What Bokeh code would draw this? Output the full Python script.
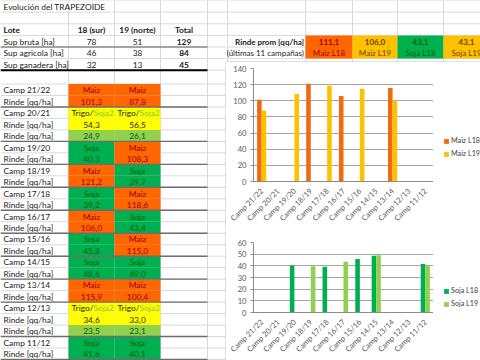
import math
import numpy as np
from bokeh.plotting import figure
from bokeh.models import (ColumnDataSource, Range1d, FactorRange, Legend, LegendItem,
                          SingleIntervalTicker)
from bokeh.layouts import row, column
from bokeh.embed import file_html
from bokeh.resources import INLINE
from bokeh.core.properties import value
from bokeh.transform import dodge

FONT = "Lato"

# ---------------- data ----------------
title_text = "Evolución del TRAPEZOIDE"
lote_header = ["Lote", "18 (sur)", "19 (norte)", "Total"]
sup_labels = ["Sup bruta [ha]", "Sup agricola [ha]", "Sup ganadera [ha]"]
sup_l18 = [78, 46, 32]
sup_l19 = [51, 38, 13]
sup_total = [129, 84, 45]

campaigns = ["Camp 21/22", "Camp 20/21", "Camp 19/20", "Camp 18/19", "Camp 17/18",
             "Camp 16/17", "Camp 15/16", "Camp 14/15", "Camp 13/14", "Camp 12/13", "Camp 11/12"]
crop_l18 = ["Maiz", "Trigo/Soja2", "Soja", "Maiz", "Soja", "Maiz", "Soja", "Soja", "Maiz", "Trigo/Soja2", "Soja"]
crop_l19 = ["Maiz", "Trigo/Soja2", "Maiz", "Soja", "Maiz", "Soja", "Maiz", "Soja", "Maiz", "Trigo/Soja2", "Soja"]
rinde_l18 = [101.3, 54.3, 40.3, 121.2, 39.2, 106.0, 45.8, 48.6, 115.9, 34.6, 41.6]
rinde_l19 = [87.8, 56.5, 108.3, 39.7, 118.6, 43.4, 115.0, 49.0, 100.4, 33.0, 40.1]
soja2_l18 = [None, 24.9, None, None, None, None, None, None, None, 23.5, None]
soja2_l19 = [None, 26.1, None, None, None, None, None, None, None, 23.1, None]

prom_title = ["Rinde prom [qq/ha]", "(últimas 11 campañas)"]
prom_series = ["Maiz L18", "Maiz L19", "Soja L18", "Soja L19"]
prom_values = [111.1, 106.0, 43.1, 43.1]

# ---------------- styling / geometry ----------------
PAGE_W, PAGE_H = 480, 360
LEFT_W = 226
RIGHT_W = PAGE_W - LEFT_W
LEG_W = 47
CH_W = RIGHT_W - LEG_W
HDR_H, C1_H, GAP_H = 62, 167, 2
C2_H = PAGE_H - HDR_H - C1_H - GAP_H

GRID = "#D9D9D9"
BOX = "#BFBFBF"
C_MAIZ, T_MAIZ = "#FF6600", "#9C0006"
C_SOJA, T_SOJA = "#00B050", "#006100"
C_TRIGO, T_TRIGO, T_SOJA2 = "#FFFF00", "#262626", "#8DC63F"
C_SOJA2 = "#92D050"
C_AMBER, T_AMBER = "#FFC000", "#6B3F00"
TXT = "#1A1A1A"
FS = "8.4px"

crop_fill = {"Maiz": C_MAIZ, "Soja": C_SOJA, "Trigo/Soja2": C_TRIGO}
crop_txt = {"Maiz": T_MAIZ, "Soja": T_SOJA, "Trigo/Soja2": T_TRIGO}


def fmt(v):
    return f"{v:.1f}".replace(".", ",")


def base_fig(w, h, xr, yr):
    p = figure(width=w, height=h, x_range=xr, y_range=yr, output_backend="svg",
               toolbar_location=None, min_border=0,
               x_axis_location=None, y_axis_location=None)
    p.grid.visible = False
    p.outline_line_color = None
    p.background_fill_color = "white"
    p.border_fill_color = "white"
    return p


def txt(p, x, y, t, align="left", color=TXT, bold=False, size=FS):
    p.text(x=x, y=y, text=t, text_font=value(FONT), text_font_size=size,
           text_align=align, text_baseline="middle", text_color=color,
           text_font_style="bold" if bold else "normal")


# ---------------- left sheet ----------------
left = base_fig(LEFT_W, PAGE_H, Range1d(0, LEFT_W), Range1d(PAGE_H, 0))

col_edges = [0, 68, 114, 160, 207]
col_center = [(col_edges[i] + col_edges[i + 1]) / 2 for i in range(4)]
top_rows = [0.1 + 11.6 * i for i in range(7)]
CAMP_Y0, CAMP_H = 83.5, 11.48

rows = []
for i, c in enumerate(campaigns):
    rows.append((c, "crop", i))
    rows.append(("Rinde [qq/ha]", "rinde", i))
    if soja2_l18[i] is not None:
        rows.append(("Rinde [qq/ha]", "soja2", i))
row_top = [CAMP_Y0 + k * CAMP_H for k in range(len(rows))]

hy = top_rows + [CAMP_Y0 + k * CAMP_H for k in range(len(rows) + 1)]
left.segment(x0=[0] * len(hy), x1=[LEFT_W] * len(hy), y0=hy, y1=hy, line_color=GRID, line_width=1)
vx = col_edges[1:]
left.segment(x0=vx, x1=vx, y0=[0] * len(vx), y1=[PAGE_H] * len(vx), line_color=GRID, line_width=1)

# colored cells
ql, qr, qt, qb, qc = [], [], [], [], []
for k, (lab, kind, i) in enumerate(rows):
    for j, crops in enumerate([crop_l18, crop_l19]):
        ql.append(col_edges[1 + j]); qr.append(col_edges[2 + j])
        qt.append(row_top[k]); qb.append(row_top[k] + CAMP_H)
        qc.append(C_SOJA2 if kind == "soja2" else crop_fill[crops[i]])
left.quad(left=ql, right=qr, top=qt, bottom=qb, fill_color=qc, line_color=None)

# group separators
sep_y = [row_top[k] + CAMP_H for k in range(len(rows))
         if k == len(rows) - 1 or rows[k + 1][1] == "crop"]
left.segment(x0=[0] * len(sep_y), x1=[207] * len(sep_y), y0=sep_y, y1=sep_y,
             line_color="#6E6E6E", line_width=1.4)

# top table lines
left.segment(x0=[0], x1=[207], y0=[top_rows[4]], y1=[top_rows[4]], line_color="#5A5A5A", line_width=1.2)
left.segment(x0=[0], x1=[207], y0=[top_rows[6]], y1=[top_rows[6]], line_color="#000000", line_width=2)

# chart box left border
left.segment(x0=[225.5, 225.5], x1=[225.5, 225.5], y0=[61.7, 231.0], y1=[229.3, PAGE_H],
             line_color=BOX, line_width=1)

# top table texts
txt(left, [3], [6.6], [title_text])
ty = (top_rows[2] + top_rows[3]) / 2 + 0.5
txt(left, [3], [ty], [lote_header[0]], bold=True)
txt(left, col_center[1:], [ty] * 3, lote_header[1:], align="center", bold=True)
sy = [(top_rows[3 + i] + top_rows[4 + i]) / 2 + 0.5 for i in range(3)]
txt(left, [3] * 3, sy, sup_labels)
txt(left, [col_center[1]] * 3, sy, [str(v) for v in sup_l18], align="center")
txt(left, [col_center[2]] * 3, sy, [str(v) for v in sup_l19], align="center")
txt(left, [col_center[3]] * 3, sy, [str(v) for v in sup_total], align="center", bold=True)

# campaign rows texts
for k, (lab, kind, i) in enumerate(rows):
    yc = row_top[k] + CAMP_H / 2 + 0.5
    txt(left, [3], [yc], [lab])
    for j, (crops, rin, s2) in enumerate([(crop_l18, rinde_l18, soja2_l18),
                                         (crop_l19, rinde_l19, soja2_l19)]):
        xc = col_center[1 + j]
        crop = crops[i]
        if kind == "crop":
            if crop == "Trigo/Soja2":
                a, b = crop.split("/")
                txt(left, [xc + 2], [yc], [a + "/"], align="right", color=T_TRIGO)
                txt(left, [xc + 2], [yc], [b], align="left", color=T_SOJA2)
            else:
                txt(left, [xc], [yc], [crop], align="center", color=crop_txt[crop])
        elif kind == "rinde":
            txt(left, [xc], [yc], [fmt(rin[i])], align="center", color=crop_txt[crop])
        else:
            txt(left, [xc], [yc], [fmt(s2[i])], align="center", color=T_SOJA)

# ---------------- header (right top) ----------------
hdr = base_fig(RIGHT_W, HDR_H, Range1d(LEFT_W, PAGE_W), Range1d(HDR_H, 0))
hx = [227, 305, 352, 397, 443]
hdr.segment(x0=hx, x1=hx, y0=[0] * len(hx), y1=[HDR_H] * len(hx), line_color=GRID)
hh = top_rows[:6]
hdr.segment(x0=[LEFT_W] * len(hh), x1=[PAGE_W] * len(hh), y0=hh, y1=hh, line_color=GRID)
cell_edges = [305, 352, 397, 443, 489]
fills = [C_MAIZ, C_AMBER, C_SOJA, C_AMBER]
tcols = [T_MAIZ, T_AMBER, T_SOJA, T_AMBER]
hdr.quad(left=cell_edges[:4], right=cell_edges[1:], top=[top_rows[3]] * 4, bottom=[top_rows[5]] * 4,
         fill_color=fills, line_color=None)
hc = [(cell_edges[i] + cell_edges[i + 1]) / 2 for i in range(4)]
y1 = (top_rows[3] + top_rows[4]) / 2 + 0.5
y2 = (top_rows[4] + top_rows[5]) / 2 + 0.5
for i in range(4):
    txt(hdr, [hc[i]], [y1], [fmt(prom_values[i])], align="center", color=tcols[i], bold=True, size="8px")
    txt(hdr, [hc[i]], [y2], [prom_series[i]], align="center", color=tcols[i], size="8px")
txt(hdr, [303.5], [y1], [prom_title[0]], align="right", bold=True, size="8px")
txt(hdr, [303.5], [y2], [prom_title[1]], align="right", size="8px")
hdr.segment(x0=[LEFT_W], x1=[PAGE_W], y0=[HDR_H - 0.5], y1=[HDR_H - 0.5], line_color=BOX)

# ---------------- charts ----------------
nan = float("nan")
maiz_l18 = np.array([r if c == "Maiz" else nan for c, r in zip(crop_l18, rinde_l18)])
maiz_l19 = np.array([r if c == "Maiz" else nan for c, r in zip(crop_l19, rinde_l19)])
soja_l18 = np.array([r if c == "Soja" else nan for c, r in zip(crop_l18, rinde_l18)])
soja_l19 = np.array([r if c == "Soja" else nan for c, r in zip(crop_l19, rinde_l19)])


def make_chart(h, top_b, bot_b, ymax, step, vals, colors):
    p = figure(width=CH_W, height=h,
               x_range=FactorRange(factors=campaigns, range_padding=0, factor_padding=0),
               y_range=Range1d(0, ymax), output_backend="svg", toolbar_location=None,
               min_border_left=27, min_border_right=0, min_border_top=top_b,
               min_border_bottom=bot_b)
    p.background_fill_color = "white"
    p.border_fill_color = "white"
    p.outline_line_color = None
    src = ColumnDataSource(dict(cat=campaigns, a=vals[0], b=vals[1]))
    p.vbar(x=dodge("cat", -0.14, range=p.x_range), top="a", width=0.28, source=src,
           fill_color=colors[0], line_color=None)
    p.vbar(x=dodge("cat", 0.14, range=p.x_range), top="b", width=0.28, source=src,
           fill_color=colors[1], line_color=None)
    p.xgrid.visible = False
    p.ygrid.grid_line_color = "#A6A6A6"
    p.yaxis.ticker = SingleIntervalTicker(interval=step)
    p.yaxis.minor_tick_line_color = None
    p.yaxis.major_tick_in = 0
    p.yaxis.major_tick_out = 3
    p.yaxis.major_label_standoff = 3
    p.axis.axis_line_color = "#8C8C8C"
    p.yaxis.major_tick_line_color = "#8C8C8C"
    p.xaxis.major_tick_line_color = None
    p.xaxis.major_label_orientation = math.pi / 4
    p.xaxis.major_label_standoff = 2
    p.axis.major_label_text_font = FONT
    p.axis.major_label_text_font_size = "7.6px"
    p.axis.major_label_text_color = "#595959"
    return p


def make_legend(h, names, colors, leg_y):
    p = base_fig(LEG_W, h, Range1d(0, 1), Range1d(0, 1))
    # legend-only renderers: one NaN row each, so nothing is drawn in the plot area
    lsrc = ColumnDataSource(dict(x=[nan], top=[nan]))
    r1 = p.vbar(x="x", top="top", width=0.1, source=lsrc, fill_color=colors[0], line_color=None)
    r2 = p.vbar(x="x", top="top", width=0.1, source=lsrc, fill_color=colors[1], line_color=None)
    leg = Legend(items=[LegendItem(label=names[0], renderers=[r1]),
                        LegendItem(label=names[1], renderers=[r2])],
                 location=(10, leg_y))
    leg.background_fill_alpha = 0
    leg.border_line_color = None
    leg.padding = 0
    leg.margin = 0
    leg.spacing = 4
    leg.glyph_width = 6
    leg.glyph_height = 6
    leg.label_height = 8
    leg.label_standoff = 2
    leg.label_text_font = FONT
    leg.label_text_font_size = "7.2px"
    leg.label_text_color = "#404040"
    p.add_layout(leg)
    return p


colors1 = ["#F26A10", C_AMBER]
colors2 = [C_SOJA, C_SOJA2]
chart1 = make_chart(C1_H, 6, 42, 140, 20, [maiz_l18, maiz_l19], colors1)
leg1 = make_legend(C1_H, ["Maiz L18", "Maiz L19"], colors1, 23)
gap = base_fig(RIGHT_W, GAP_H, Range1d(0, 1), Range1d(0, 1))
gap.background_fill_color = "#C8C8C8"
gap.border_fill_color = "#C8C8C8"
chart2 = make_chart(C2_H, 11, 43, 60, 10, [soja_l18, soja_l19], colors2)
leg2 = make_legend(C2_H, ["Soja L18", "Soja L19"], colors2, 4)

right = column(hdr, row(chart1, leg1, spacing=0), gap, row(chart2, leg2, spacing=0), spacing=0)
layout = row(left, right, spacing=0)

open("out.html", "w").write(file_html(layout, INLINE))
